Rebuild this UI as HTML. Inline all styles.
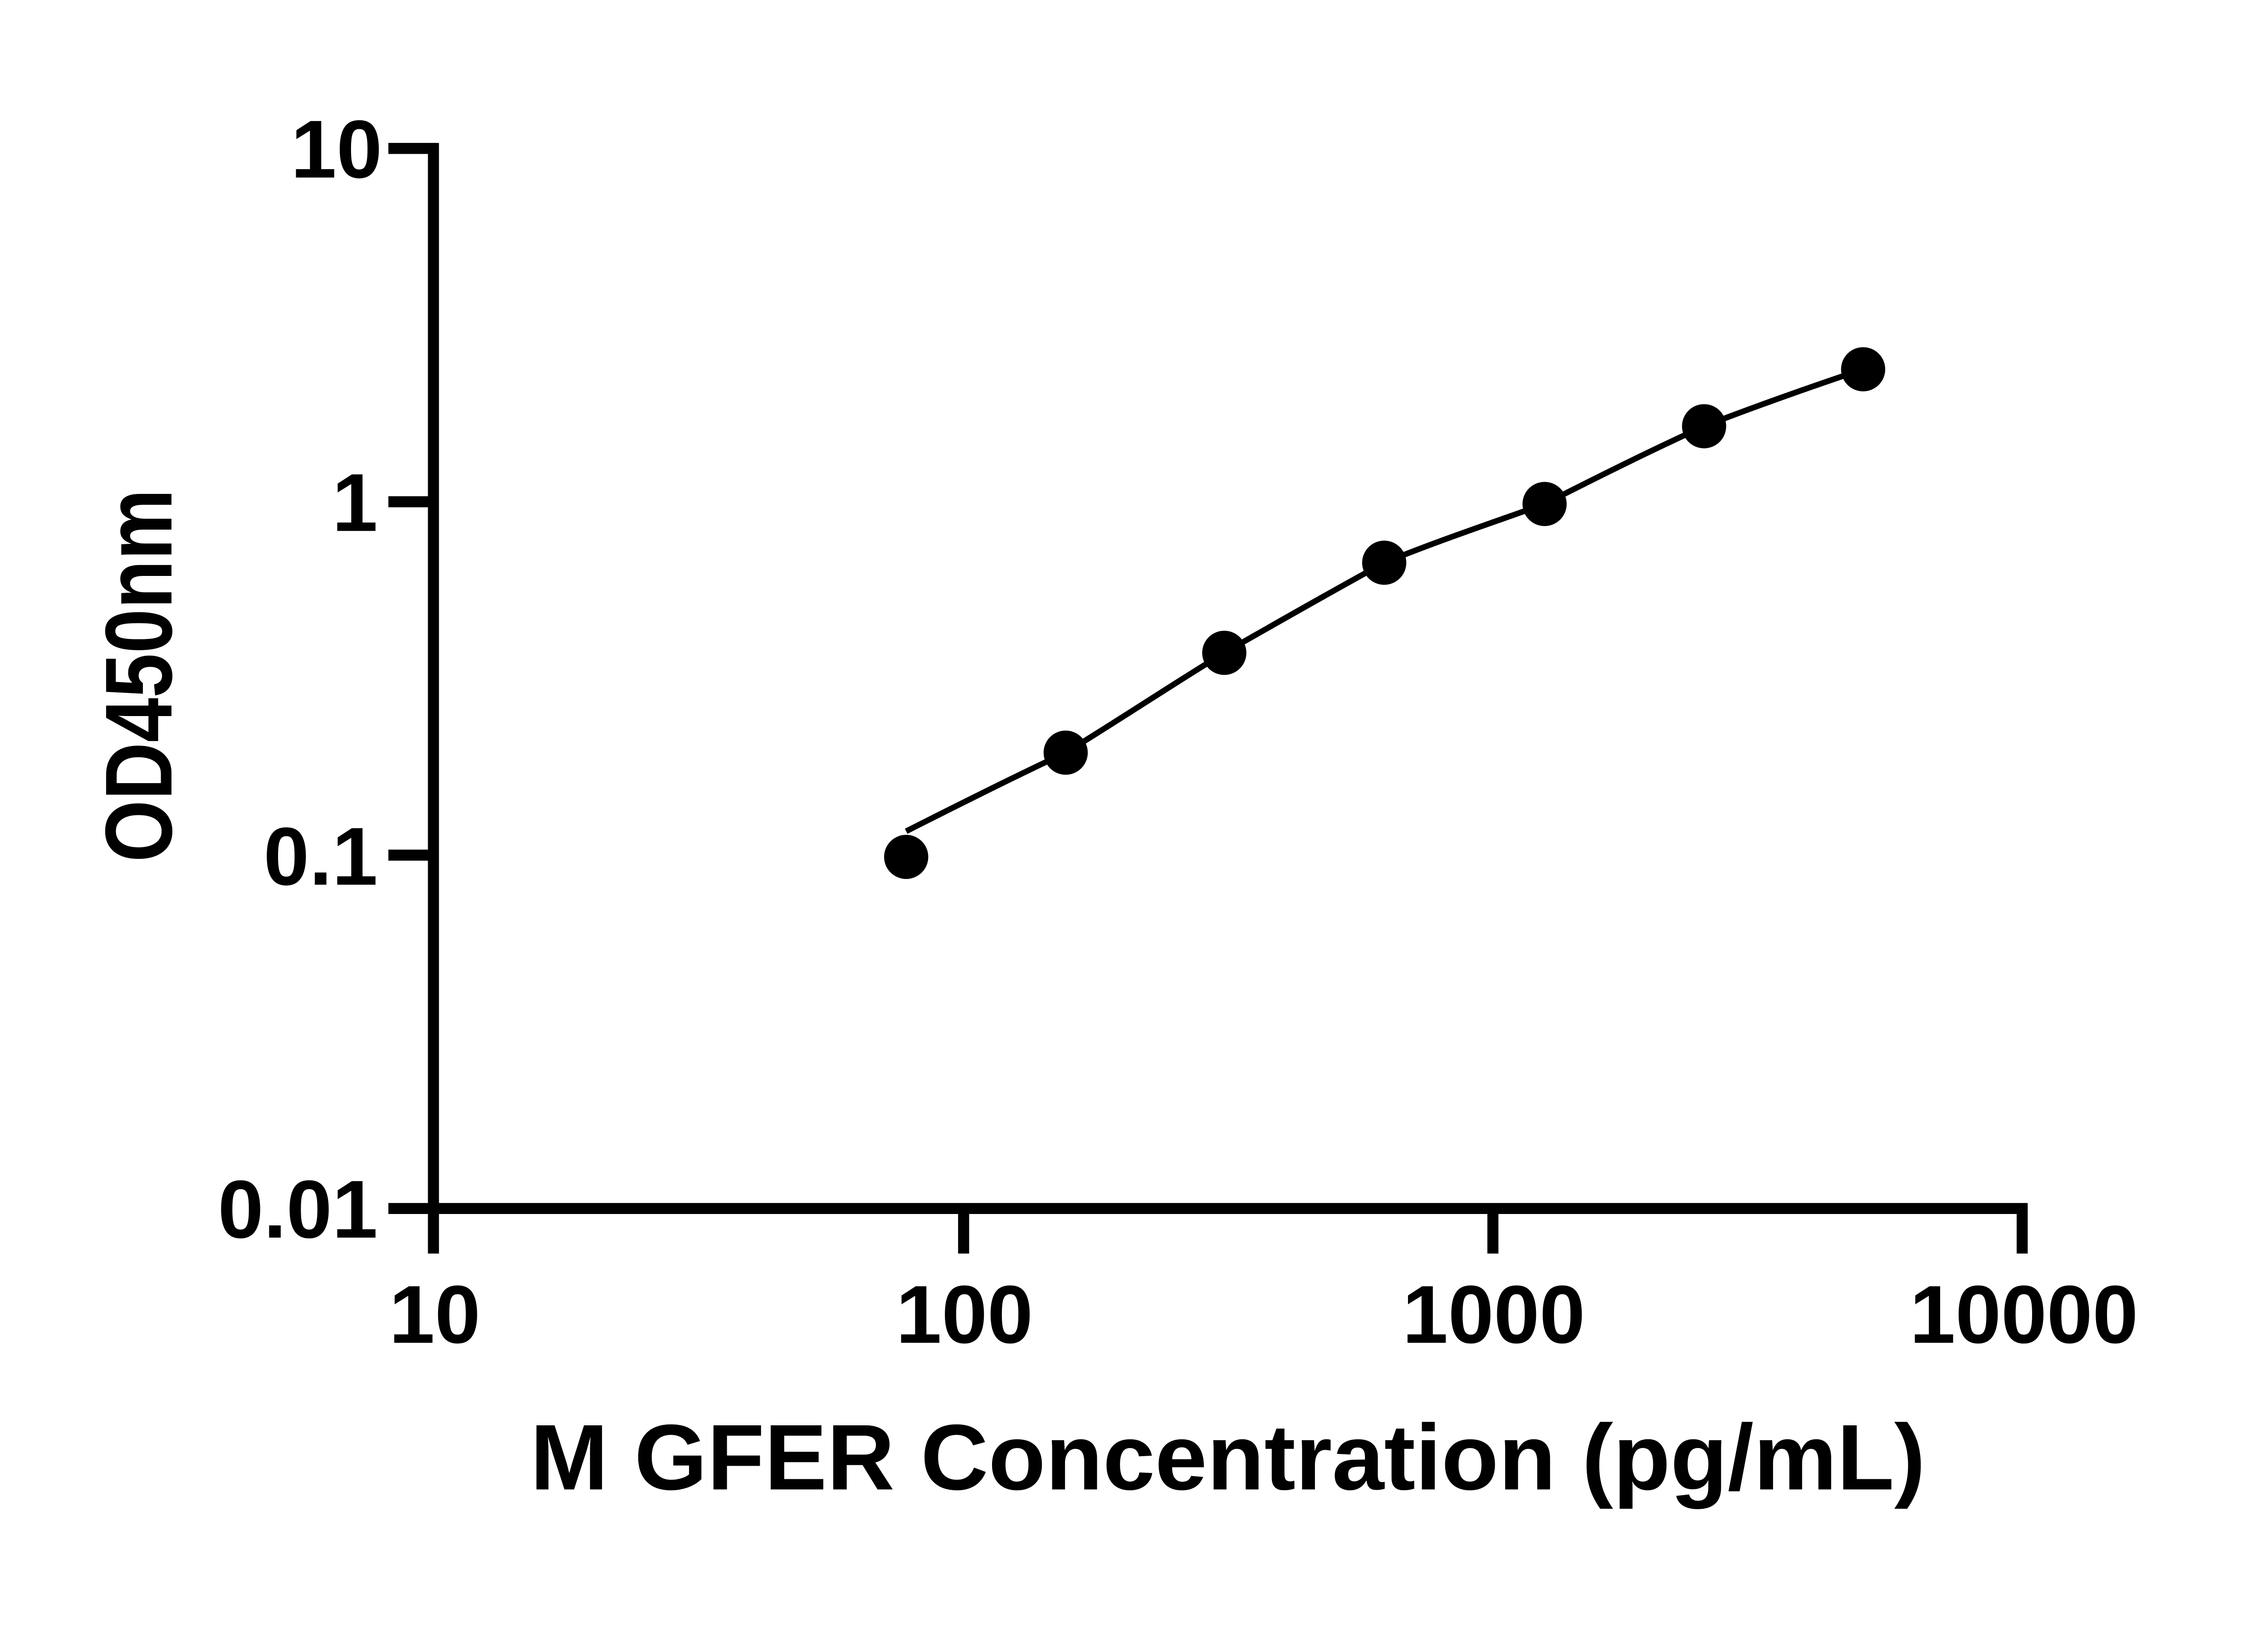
<!DOCTYPE html>
<html><head><meta charset="utf-8"><style>
html,body{margin:0;padding:0;background:#fff;}
svg{display:block;}
text{font-family:"Liberation Sans",Arial,sans-serif;font-weight:bold;fill:#000;}
</style></head><body>
<svg width="5130" height="3612" viewBox="0 0 5130 3612" xmlns="http://www.w3.org/2000/svg">
<rect width="5130" height="3612" fill="#fff"/>
<g transform="translate(3,0) scale(0.974)">
<!-- axes -->
<line x1="978" y1="324" x2="978" y2="2838" stroke="#000" stroke-width="25"/>
<line x1="966" y1="2736" x2="4586" y2="2736" stroke="#000" stroke-width="25"/>
<!-- y ticks -->
<line x1="876" y1="336" x2="990" y2="336" stroke="#000" stroke-width="25"/>
<line x1="876" y1="1136" x2="978" y2="1136" stroke="#000" stroke-width="25"/>
<line x1="876" y1="1936" x2="978" y2="1936" stroke="#000" stroke-width="25"/>
<line x1="876" y1="2736" x2="978" y2="2736" stroke="#000" stroke-width="25"/>
<!-- x ticks -->
<line x1="2178" y1="2736" x2="2178" y2="2838" stroke="#000" stroke-width="25"/>
<line x1="3376" y1="2736" x2="3376" y2="2838" stroke="#000" stroke-width="25"/>
<line x1="4574" y1="2724" x2="4574" y2="2838" stroke="#000" stroke-width="25"/>
<!-- y labels -->
<g font-size="186" text-anchor="end">
<text x="862" y="402">10</text>
<text x="852" y="1202">1</text>
<text x="852" y="2003">0.1</text>
<text x="852" y="2802">0.01</text>
</g>
<!-- x labels -->
<g font-size="186" text-anchor="middle">
<text x="981" y="3040">10</text>
<text x="2180" y="3040">100</text>
<text x="3378" y="3040">1000</text>
<text x="4578" y="3040">10000</text>
</g>
<!-- titles -->
<text x="1197" y="3372" font-size="211" textLength="3158" lengthAdjust="spacingAndGlyphs">M GFER Concentration (pg/mL)</text>
<text transform="translate(385,1952) rotate(-90)" font-size="215" textLength="845" lengthAdjust="spacingAndGlyphs">OD450nm</text>
<!-- curve -->
<path fill="none" stroke="#000" stroke-width="13" stroke-linejoin="round"
 d="M2048,1882 C2170,1820 2290,1760 2409,1704 C2530,1630 2650,1550 2768,1478 C2890,1408 3010,1340 3130,1274 C3250,1225 3370,1185 3493,1141 C3613,1080 3733,1020 3854,965 C3975,918 4095,876 4214,836"/>
<!-- points -->
<g fill="#000">
<circle cx="2048" cy="1940" r="50"/>
<circle cx="2409" cy="1704" r="50"/>
<circle cx="2768" cy="1478" r="50"/>
<circle cx="3130" cy="1274" r="50"/>
<circle cx="3493" cy="1141" r="50"/>
<circle cx="3854" cy="965" r="50"/>
<circle cx="4214" cy="836" r="50"/>
</g>
</g>
</svg>
</body></html>
